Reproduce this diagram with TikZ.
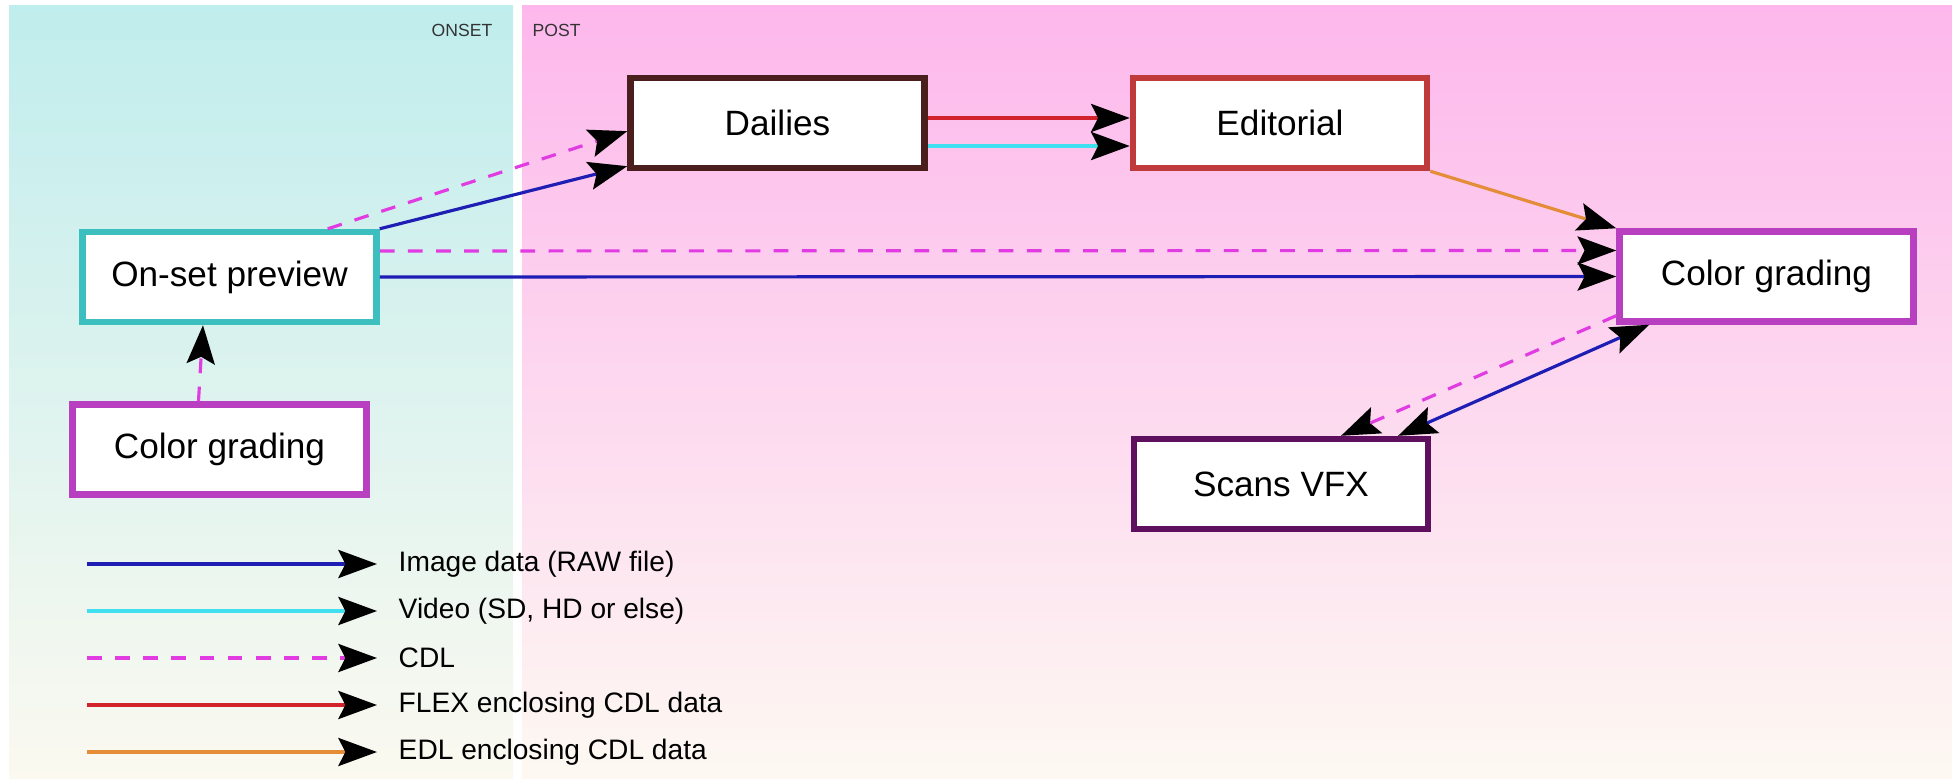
\documentclass[tikz,border=0pt]{standalone}
\usepackage{fontspec}
\setmainfont{Liberation Sans}
\usetikzlibrary{arrows.meta}

\definecolor{onsettop}{RGB}{192,237,237}
\definecolor{onsetbot}{RGB}{251,249,240}
\definecolor{posttop}{RGB}{253,183,236}
\definecolor{postmid}{RGB}{252,222,234}
\definecolor{postbot}{RGB}{253,249,242}
\definecolor{onsetteal}{RGB}{61,191,191}
\definecolor{dailiesbrown}{RGB}{75,30,30}
\definecolor{editred}{RGB}{192,57,59}
\definecolor{gradepurple}{RGB}{184,64,192}
\definecolor{scanspurple}{RGB}{94,16,94}
\definecolor{imgblue}{RGB}{30,30,180}
\definecolor{vidcyan}{RGB}{64,224,240}
\definecolor{cdlmag}{RGB}{225,60,225}
\definecolor{flexred}{RGB}{210,35,45}
\definecolor{edlorange}{RGB}{228,140,55}

\begin{document}
\begin{tikzpicture}[x=0.01cm, y=-0.01cm,
  >={Stealth[length=11pt,width=8pt,inset=2pt,color=black]},
  stage/.style={draw, line width=1.8pt, fill=white, minimum width=2.94cm, minimum height=0.9cm, font=\fontsize{10}{12}\selectfont},
  zone/.style={inner sep=0pt, text=black!80, font=\fontsize{5}{6}\selectfont},
  keytext/.style={inner sep=2pt, anchor=west, font=\fontsize{8}{10}\selectfont},
  imgdata/.style={imgblue, line width=0.9pt, ->},
  video/.style={vidcyan, line width=0.9pt, ->},
  cdl/.style={cdlmag, line width=0.9pt, dash pattern=on 4.2pt off 3.8pt, ->},
  flex/.style={flexred, line width=0.9pt, ->},
  edl/.style={edlorange, line width=0.9pt, ->}]
  \useasboundingbox (0,0) rectangle (1952,779);
  % onset / post areas
  \shade[top color=onsettop, bottom color=onsetbot] (9,6) rectangle (513,779);
  \shade[top color=posttop, middle color=postmid, bottom color=postbot] (522,6) rectangle (1952,779);
  \node[zone, anchor=east] (onsetlbl) at (493,30) {ONSET};
  \node[zone, anchor=west] (postlbl) at (532,30) {POST};

  \node[stage, draw=onsetteal] (onset) at (229.5,277) {On-set preview};
  \node[stage, draw=gradepurple] (gradeL) at (219.5,449.5) {Color grading};
  \node[stage, draw=dailiesbrown] (dailies) at (777.5,123) {Dailies};
  \node[stage, draw=editred] (editorial) at (1280,123) {Editorial};
  \node[stage, draw=gradepurple] (gradeR) at (1766.5,276.5) {Color grading};
  \node[stage, draw=scanspurple] (scans) at (1281,484) {Scans VFX};

  \draw[cdl] ([xshift=-0.52cm]onset.north east) -- ([yshift=0.4cm]dailies.south west);
  \draw[imgdata] (onset.north east) -- ([yshift=0.05cm]dailies.south west);
  \draw[cdl] ([yshift=0.26cm]onset.east) -- ([yshift=0.26cm]gradeR.west);
  \draw[imgdata] (onset.east) -- (gradeR.west);
  \draw[cdl] ([xshift=-0.21cm]gradeL.north) -- ([xshift=-0.265cm]onset.south);
  \draw[flex] ([yshift=0.05cm]dailies.east) -- ([yshift=0.05cm]editorial.west);
  \draw[video] ([yshift=-0.23cm]dailies.east) -- ([yshift=-0.23cm]editorial.west);
  \draw[edl] (editorial.south east) -- (gradeR.north west);
  \draw[cdl] ([yshift=0.09cm]gradeR.south west) -- ([xshift=0.6cm]scans.north);
  \draw[imgdata, <->] ([xshift=0.33cm]gradeR.south west) -- ([xshift=1.17cm]scans.north);

  % legend
  \foreach \i/\y/\s/\t in {0/564/imgdata/{Image data (RAW file)}, 1/611/video/{Video (SD, HD or else)}, 2/658/cdl/CDL, 3/705/flex/{FLEX enclosing CDL data}, 4/752/edl/{EDL enclosing CDL data}}{
    \coordinate (key\i) at (87,\y);
    \node[keytext] (keytxt\i) at (391,\y) {\t};
    \draw[\s] (key\i) -- ([xshift=-0.14cm]keytxt\i.west);
  }
\end{tikzpicture}
\end{document}
